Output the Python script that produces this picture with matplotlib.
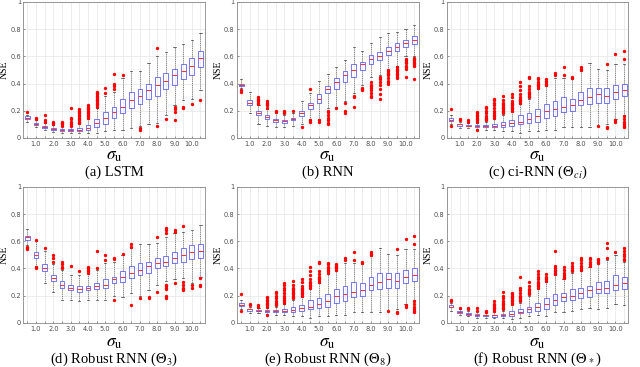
import numpy as np
import matplotlib.pyplot as plt

plt.rcParams['mathtext.fontset'] = 'stix'

# noise levels sigma_u (one box per level)
sigma_u = [0.5, 1.0, 1.5, 2.0, 2.5, 3.0, 3.5, 4.0, 4.5, 5.0, 5.5,
           6.0, 6.5, 7.0, 7.5, 8.0, 8.5, 9.0, 9.5, 10.0, 10.5]
tick_labels = ['1.0', '2.0', '3.0', '4.0', '5.0', '6.0', '7.0', '8.0', '9.0', '10.0']

# (a) LSTM
lstm_med = [0.15, 0.10, 0.08, 0.065, 0.06, 0.06, 0.06, 0.075, 0.11, 0.15, 0.19,
            0.23, 0.28, 0.31, 0.35, 0.39, 0.42, 0.46, 0.49, 0.53, 0.59]
lstm_q1 = [0.14, 0.095, 0.075, 0.06, 0.05, 0.05, 0.05, 0.06, 0.08, 0.10, 0.15,
           0.18, 0.22, 0.25, 0.29, 0.31, 0.36, 0.39, 0.43, 0.46, 0.52]
lstm_q3 = [0.16, 0.11, 0.09, 0.075, 0.065, 0.065, 0.07, 0.095, 0.14, 0.19, 0.23,
           0.29, 0.34, 0.36, 0.40, 0.45, 0.48, 0.51, 0.54, 0.59, 0.64]
lstm_lo = [0.12, 0.08, 0.06, 0.045, 0.04, 0.04, 0.04, 0.04, 0.04, 0.05, 0.06,
           0.06, 0.07, 0.09, 0.10, 0.11, 0.17, 0.24, 0.28, 0.29, 0.35]
lstm_hi = [0.17, 0.13, 0.11, 0.095, 0.085, 0.085, 0.10, 0.14, 0.22, 0.31, 0.34,
           0.44, 0.49, 0.49, 0.55, 0.60, 0.63, 0.67, 0.69, 0.72, 0.77]
lstm_out = [[0.19], [0.14, 0.15], [0.12, 0.13, 0.17], [0.10, 0.11, 0.12],
            [0.09, 0.10, 0.11, 0.12], [0.09, 0.10, 0.12, 0.14, 0.15, 0.22],
            [0.11, 0.12, 0.13, 0.14, 0.15, 0.16, 0.17, 0.18, 0.19, 0.20, 0.21],
            [0.15, 0.16, 0.17, 0.18, 0.19, 0.20, 0.21, 0.22, 0.23, 0.24],
            [0.23, 0.24, 0.25, 0.26, 0.27, 0.28, 0.29, 0.30, 0.31, 0.32, 0.33, 0.34],
            [0.33, 0.37], [0.36, 0.38, 0.40, 0.47], [0.46], [], [0.06, 0.07], [],
            [0.09, 0.66], [0.14], [0.13, 0.19, 0.21, 0.23], [0.22, 0.23], [0.25], [0.28]]

# (b) RNN
rnn_med = [0.39, 0.26, 0.18, 0.155, 0.13, 0.125, 0.14, 0.18, 0.24, 0.29, 0.36,
           0.41, 0.46, 0.50, 0.54, 0.58, 0.60, 0.64, 0.67, 0.70, 0.72]
rnn_q1 = [0.385, 0.24, 0.17, 0.14, 0.12, 0.11, 0.13, 0.16, 0.21, 0.26, 0.33,
          0.36, 0.41, 0.45, 0.50, 0.54, 0.57, 0.61, 0.64, 0.67, 0.69]
rnn_q3 = [0.40, 0.28, 0.20, 0.17, 0.14, 0.135, 0.15, 0.20, 0.26, 0.32, 0.38,
          0.44, 0.49, 0.54, 0.56, 0.61, 0.63, 0.67, 0.70, 0.72, 0.75]
rnn_lo = [0.37, 0.18, 0.10, 0.09, 0.08, 0.08, 0.09, 0.10, 0.14, 0.14, 0.22,
          0.23, 0.27, 0.33, 0.39, 0.45, 0.46, 0.51, 0.53, 0.60, 0.60]
rnn_hi = [0.43, 0.34, 0.24, 0.21, 0.18, 0.17, 0.18, 0.27, 0.33, 0.42, 0.47,
          0.52, 0.57, 0.67, 0.64, 0.70, 0.74, 0.77, 0.78, 0.80, 0.83]
rnn_out = [[0.34, 0.35], [], [0.25, 0.26, 0.27, 0.28, 0.29, 0.30],
           [0.22, 0.24, 0.25, 0.26, 0.27], [0.19, 0.20], [0.18, 0.19, 0.20], [0.20],
           [0.08], [0.12, 0.13, 0.36], [0.12, 0.13],
           [0.10, 0.11, 0.13, 0.15, 0.17, 0.19, 0.20], [0.22], [0.18, 0.20, 0.26],
           [0.23, 0.30, 0.31], [0.35, 0.36, 0.37],
           [0.30, 0.31, 0.33, 0.35, 0.37, 0.38, 0.39, 0.41],
           [0.29, 0.32, 0.36, 0.39, 0.41, 0.43, 0.45],
           [0.40, 0.41, 0.42, 0.44, 0.46, 0.47, 0.48, 0.49, 0.50],
           [0.44, 0.45, 0.46, 0.47, 0.48, 0.49, 0.50, 0.51, 0.52],
           [0.45, 0.51, 0.52, 0.53, 0.55, 0.56, 0.57, 0.58],
           [0.43, 0.53, 0.54, 0.55, 0.56, 0.57, 0.58, 0.59]]

# (c) ci-RNN
ci_med = [0.13, 0.10, 0.09, 0.09, 0.09, 0.09, 0.095, 0.11, 0.12, 0.14, 0.16,
          0.20, 0.21, 0.23, 0.24, 0.28, 0.30, 0.32, 0.31, 0.34, 0.35]
ci_q1 = [0.125, 0.09, 0.085, 0.08, 0.08, 0.08, 0.08, 0.09, 0.10, 0.11, 0.12,
         0.15, 0.16, 0.19, 0.20, 0.24, 0.25, 0.26, 0.26, 0.29, 0.31]
ci_q3 = [0.145, 0.105, 0.095, 0.095, 0.095, 0.10, 0.12, 0.13, 0.17, 0.18, 0.21,
         0.25, 0.27, 0.30, 0.29, 0.34, 0.37, 0.37, 0.37, 0.39, 0.40]
ci_lo = [0.10, 0.07, 0.07, 0.065, 0.06, 0.06, 0.05, 0.05, 0.04, 0.05, 0.05,
         0.06, 0.06, 0.08, 0.08, 0.08, 0.08, 0.09, 0.10, 0.14, 0.17]
ci_hi = [0.17, 0.12, 0.11, 0.11, 0.12, 0.14, 0.17, 0.19, 0.25, 0.29, 0.36,
         0.38, 0.44, 0.44, 0.43, 0.49, 0.55, 0.51, 0.50, 0.54, 0.54]
ci_out = [[0.09, 0.21], [0.13, 0.14], [0.12, 0.13],
          [0.06, 0.12, 0.13, 0.14, 0.15, 0.16, 0.17, 0.18, 0.19],
          [0.13, 0.14, 0.15, 0.16, 0.18, 0.20, 0.22, 0.23],
          [0.15, 0.16, 0.17, 0.18, 0.20, 0.22, 0.24, 0.26, 0.28, 0.29],
          [0.18, 0.19, 0.20, 0.21, 0.22, 0.23, 0.24, 0.25, 0.26, 0.28, 0.31],
          [0.20, 0.21, 0.22, 0.23, 0.24, 0.25, 0.26, 0.27, 0.30, 0.32],
          [0.26, 0.27, 0.28, 0.29, 0.30, 0.32, 0.35, 0.38, 0.41],
          [0.30, 0.31, 0.32, 0.33, 0.34, 0.36, 0.38, 0.44, 0.45],
          [0.37, 0.38, 0.39, 0.40, 0.41, 0.43, 0.44],
          [0.39, 0.40, 0.41, 0.42, 0.43], [0.46, 0.48], [0.46, 0.52], [0.44, 0.45],
          [0.50, 0.51, 0.52], [], [0.09], [0.07, 0.08, 0.54], [0.12, 0.13, 0.62],
          [0.08, 0.09, 0.10, 0.12, 0.14, 0.16, 0.58, 0.64]]

# (d) Robust RNN, Theta_3
r3_med = [0.63, 0.50, 0.40, 0.33, 0.28, 0.26, 0.25, 0.255, 0.27, 0.28, 0.32,
          0.34, 0.37, 0.39, 0.42, 0.44, 0.45, 0.48, 0.50, 0.52, 0.53]
r3_q1 = [0.61, 0.48, 0.38, 0.31, 0.26, 0.24, 0.23, 0.24, 0.25, 0.26, 0.29,
         0.30, 0.33, 0.35, 0.37, 0.40, 0.42, 0.44, 0.45, 0.47, 0.48]
r3_q3 = [0.64, 0.52, 0.43, 0.35, 0.31, 0.28, 0.27, 0.27, 0.29, 0.32, 0.34,
         0.38, 0.42, 0.44, 0.45, 0.48, 0.49, 0.52, 0.55, 0.57, 0.58]
r3_lo = [0.57, 0.42, 0.29, 0.23, 0.17, 0.17, 0.16, 0.17, 0.17, 0.17, 0.20,
         0.19, 0.22, 0.20, 0.24, 0.28, 0.31, 0.32, 0.33, 0.29, 0.34]
r3_hi = [0.69, 0.60, 0.53, 0.43, 0.39, 0.35, 0.35, 0.36, 0.39, 0.44, 0.45,
         0.50, 0.55, 0.58, 0.58, 0.59, 0.63, 0.66, 0.67, 0.68, 0.72]
r3_out = [[0.54, 0.55, 0.56], [0.40, 0.41, 0.61], [0.55], [0.45, 0.48, 0.50],
          [0.40, 0.41, 0.43, 0.45], [0.42], [0.38], [0.37, 0.38, 0.39, 0.40, 0.41],
          [0.40, 0.53], [0.46, 0.50], [0.17, 0.47, 0.48], [0.51],
          [0.13, 0.56, 0.58], [0.18], [0.18, 0.19], [0.23, 0.63],
          [0.18, 0.20, 0.25, 0.26, 0.27, 0.28, 0.66, 0.68, 0.70],
          [0.29, 0.67, 0.68], [0.24, 0.25, 0.26, 0.28, 0.30, 0.71], [0.26, 0.28],
          [0.27, 0.28, 0.33]]

# (e) Robust RNN, Theta_8
r8_med = list(ci_med)
r8_q1 = list(ci_q1)
r8_q3 = list(ci_q3)
r8_lo = list(ci_lo)
r8_hi = list(ci_hi)
r8_out = [list(o) for o in ci_out]

# (f) Robust RNN, Theta_*
rs_med = [0.12, 0.08, 0.065, 0.06, 0.055, 0.055, 0.055, 0.065, 0.08, 0.10, 0.12,
          0.14, 0.17, 0.19, 0.20, 0.22, 0.24, 0.25, 0.26, 0.28, 0.29]
rs_q1 = [0.115, 0.075, 0.06, 0.05, 0.05, 0.045, 0.05, 0.05, 0.07, 0.08, 0.09,
         0.10, 0.13, 0.16, 0.17, 0.18, 0.19, 0.22, 0.22, 0.24, 0.25]
rs_q3 = [0.13, 0.085, 0.07, 0.065, 0.06, 0.06, 0.065, 0.085, 0.10, 0.12, 0.15,
         0.18, 0.21, 0.22, 0.25, 0.26, 0.27, 0.30, 0.31, 0.35, 0.34]
rs_lo = [0.09, 0.06, 0.05, 0.04, 0.04, 0.035, 0.035, 0.03, 0.04, 0.05, 0.06,
         0.05, 0.08, 0.08, 0.09, 0.10, 0.11, 0.10, 0.11, 0.14, 0.13]
rs_hi = [0.15, 0.10, 0.09, 0.085, 0.075, 0.08, 0.09, 0.13, 0.15, 0.20, 0.25,
         0.30, 0.35, 0.32, 0.37, 0.38, 0.41, 0.43, 0.46, 0.50, 0.45]
rs_out = [[0.16, 0.17], [0.11], [0.10, 0.11], [0.09, 0.11], [0.08, 0.09],
          [0.09, 0.10, 0.11, 0.12, 0.13, 0.14, 0.16],
          [0.10, 0.11, 0.12, 0.13, 0.14, 0.15, 0.16, 0.18, 0.20, 0.23],
          [0.14, 0.15, 0.16, 0.17, 0.18, 0.19, 0.20, 0.21, 0.22],
          [0.16, 0.17, 0.18, 0.19, 0.20, 0.22, 0.24, 0.26, 0.34],
          [0.21, 0.22, 0.23, 0.24, 0.25, 0.27, 0.30],
          [0.26, 0.27, 0.28, 0.29, 0.30, 0.32, 0.34, 0.36, 0.38],
          [0.31, 0.32, 0.33, 0.34, 0.36],
          [0.36, 0.37, 0.38, 0.39, 0.40, 0.42, 0.53],
          [0.33, 0.34, 0.35, 0.37, 0.39, 0.41],
          [0.38, 0.39, 0.40, 0.42, 0.44],
          [0.39, 0.40, 0.42, 0.44, 0.46, 0.48],
          [0.42, 0.43, 0.45, 0.47, 0.48], [0.44, 0.45, 0.46, 0.47],
          [0.48, 0.55, 0.59], [0.52], [0.46, 0.47, 0.49, 0.51, 0.53, 0.55]]

panels = [
    ('(a) LSTM', lstm_med, lstm_q1, lstm_q3, lstm_lo, lstm_hi, lstm_out),
    ('(b) RNN', rnn_med, rnn_q1, rnn_q3, rnn_lo, rnn_hi, rnn_out),
    (r'(c) ci-RNN ($\Theta_{ci}$)', ci_med, ci_q1, ci_q3, ci_lo, ci_hi, ci_out),
    (r'(d) Robust RNN ($\Theta_3$)', r3_med, r3_q1, r3_q3, r3_lo, r3_hi, r3_out),
    (r'(e) Robust RNN ($\Theta_8$)', r8_med, r8_q1, r8_q3, r8_lo, r8_hi, r8_out),
    (r'(f) Robust RNN ($\Theta_*$)', rs_med, rs_q1, rs_q3, rs_lo, rs_hi, rs_out),
]

fig = plt.figure(figsize=(6.4, 3.67), dpi=100)
lefts = [0.036, 0.370, 0.698]
bottoms = [0.624, 0.120]
cap_y = [0.530, 0.022]
grey = '#4d4d4d'

for k, (title, med, q1, q3, lo, hi, out) in enumerate(panels):
    row, col = divmod(k, 3)
    ax = fig.add_axes([lefts[col], bottoms[row], 0.284, 0.371])
    stats = []
    for i in range(len(sigma_u)):
        stats.append(dict(med=med[i], q1=q1[i], q3=q3[i],
                          whislo=lo[i], whishi=hi[i], fliers=out[i]))
    pos = np.arange(1, len(sigma_u) + 1)
    ax.bxp(stats, positions=pos, widths=0.55, showfliers=True,
           boxprops=dict(color='#7878ff', linewidth=0.7),
           medianprops=dict(color='#ff3030', linewidth=0.7),
           whiskerprops=dict(color='#555555', linewidth=0.5, linestyle=(0, (1.5, 1.2))),
           capprops=dict(color='#333333', linewidth=0.5),
           capwidths=0.25,
           flierprops=dict(marker='o', markersize=1.4, markerfacecolor='#ff0000',
                           markeredgecolor='#ff0000', linestyle='none'))
    ax.set_xlim(0.5, len(sigma_u) + 0.5)
    ax.set_ylim(0, 1)
    ax.set_xticks(pos)
    labels = []
    for s in sigma_u:
        lab = '%.1f' % s
        labels.append(lab if lab in tick_labels else '')
    ax.set_xticklabels(labels)
    ax.set_yticks([0, 0.2, 0.4, 0.6, 0.8, 1])
    ax.set_yticklabels(['0', '0.2', '0.4', '0.6', '0.8', '1'])
    ax.grid(True, color='#e6e6e6', linewidth=0.5)
    ax.set_axisbelow(True)
    ax.tick_params(direction='in', length=1.5, width=0.4, labelsize=4.8,
                   colors=grey)
    ax.tick_params(axis='y', pad=1.5)
    ax.tick_params(axis='x', pad=2.5)
    for sp in ax.spines.values():
        sp.set_color('#888888')
        sp.set_linewidth(0.6)
    ax.set_ylabel('NSE', family='Liberation Serif', fontsize=7, labelpad=1)
    ax.set_xlabel(r'$\sigma_{\mathrm{u}}$', fontsize=12.5, labelpad=-1 + row * 1.5)
    fig.text(lefts[col] + 0.142, cap_y[row], title, ha='center', va='center',
             family='Liberation Serif', fontsize=10.5)

plt.savefig('out.png', dpi=100)
